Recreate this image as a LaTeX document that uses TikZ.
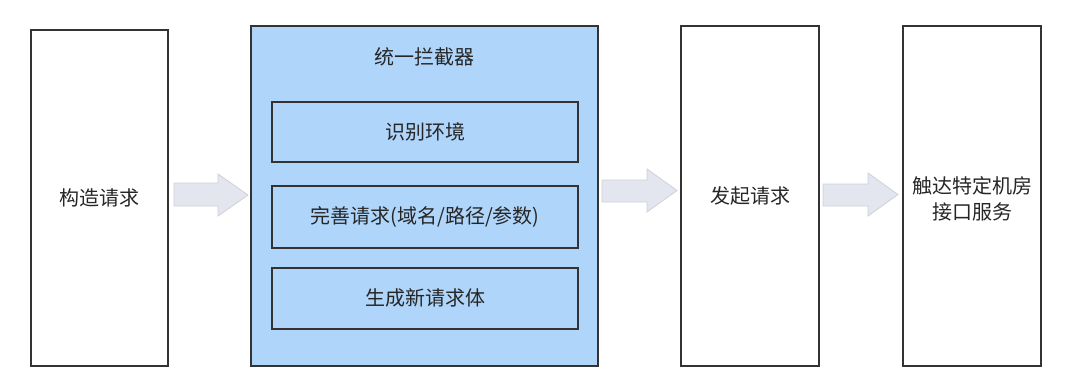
\documentclass[tikz,border=0pt]{standalone}
\usepackage{fontspec}
\setmainfont{Noto Sans CJK SC}
\definecolor{ib}{HTML}{B0D5FA}
\definecolor{af}{HTML}{E3E6EF}
\definecolor{ad}{HTML}{CDD1DA}
\begin{document}
\begin{tikzpicture}[x=1pt,y=-1pt,
  box/.style={draw=black!80,line width=1.3pt,inner sep=0pt},
  lbl/.style={font=\fontsize{20}{26}\selectfont,text=black!85,align=center,inner sep=0pt},
  blk/.style={draw=ad,fill=af,line width=0.8pt,line join=miter}]
\useasboundingbox[fill=white] (0,0) rectangle (1080,383);
% boxes
\draw[box,fill=white] (31,30) rectangle (168,366);
\draw[box,fill=ib] (251,26) rectangle (598,366);
\draw[box,fill=ib] (272,102) rectangle (578,162);
\draw[box,fill=ib] (272,186) rectangle (578,248);
\draw[box,fill=ib] (272,268) rectangle (578,329);
\draw[box,fill=white] (681,26) rectangle (819,366);
\draw[box,fill=white] (903,26) rectangle (1041,366);
% labels
\node[lbl] (a) at (99.5,198) {构造请求};
\node[lbl] (t) at (424.5,57) {统一拦截器};
\node[lbl] (b1) at (425,132) {识别环境};
\node[lbl] (b2) at (425,217) {完善请求(域名/路径/参数)};
\node[lbl] (b3) at (425,298) {生成新请求体};
\node[lbl] (c) at (750,196) {发起请求};
\node[lbl] (d) at (972,199) {触达特定机房\\接口服务};
% block arrows
\draw[blk] (174,183) -- (218,183) -- (218,174) -- (248,195) -- (218,216) -- (218,206) -- (174,206) -- cycle;
\draw[blk] (602,180) -- (647,180) -- (647,169) -- (677,190.5) -- (647,212) -- (647,202) -- (602,202) -- cycle;
\draw[blk] (823,184) -- (868,184) -- (868,173) -- (898,194.5) -- (868,216) -- (868,206) -- (823,206) -- cycle;
\end{tikzpicture}
\end{document}
